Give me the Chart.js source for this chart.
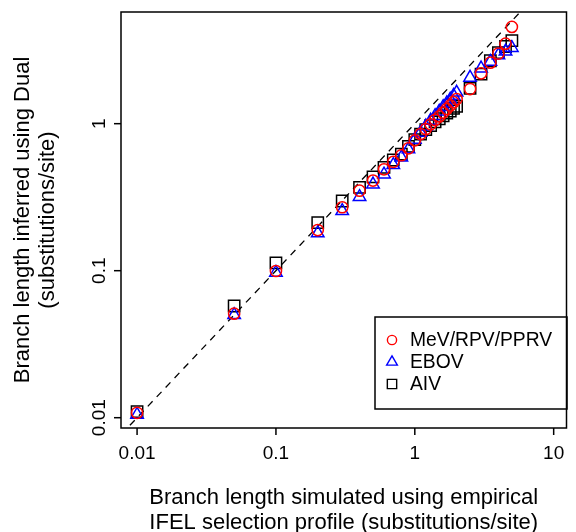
<!DOCTYPE html>
<html>
<head>
<meta charset="utf-8">
<script src="https://cdn.jsdelivr.net/npm/chart.js@4.4.1/dist/chart.umd.min.js"></script>
<style>
  html, body { margin: 0; padding: 0; background: #fff; }
  #wrap { width: 576px; height: 532px; }
</style>
</head>
<body>
<div id="wrap"><canvas id="chart" width="576" height="532"></canvas></div>
<script>
// simulated branch length (x)
var simulated = [0.01, 0.05, 0.1, 0.2, 0.3, 0.4, 0.5, 0.6, 0.7, 0.8, 0.9, 1.0, 1.1, 1.2, 1.3, 1.4, 1.5, 1.6, 1.7, 1.8, 1.9, 2.0, 2.5, 3.0, 3.5, 4.0, 4.5, 5.0];
// inferred branch lengths, one list per virus
var mevInferred = [0.0108, 0.051, 0.0995, 0.189, 0.27, 0.35, 0.41, 0.489, 0.55, 0.61, 0.68, 0.77, 0.85, 0.92, 0.99, 1.06, 1.12, 1.19, 1.26, 1.33, 1.40, 1.47, 1.72, 2.2, 2.6, 3.0, 3.5, 4.55];
var ebovInferred = [0.0105, 0.050, 0.097, 0.18, 0.255, 0.318, 0.387, 0.452, 0.524, 0.59, 0.67, 0.78, 0.87, 0.96, 1.05, 1.13, 1.21, 1.30, 1.38, 1.46, 1.55, 1.63, 2.06, 2.38, 2.64, 2.93, 3.1, 3.28];
var aivInferred = [0.011, 0.0575, 0.113, 0.212, 0.298, 0.369, 0.435, 0.505, 0.566, 0.62, 0.70, 0.78, 0.85, 0.91, 0.97, 1.03, 1.08, 1.13, 1.18, 1.22, 1.27, 1.31, 1.74, 2.17, 2.68, 3.04, 3.35, 3.67];

var seriesNames = ['MeV/RPV/PPRV', 'EBOV', 'AIV'];
var xTicks = [0.01, 0.1, 1, 10];
var yTicks = [0.01, 0.1, 1, 10];
var xTickLabels = ['0.01', '0.1', '1', '10'];
var yTickLabels = ['0.01', '0.1', '1', '10'];
var xRange = [0.00766, 12.37];
var yRange = [0.00851, 5.75];

var xTitle = ['Branch length simulated using empirical', 'IFEL selection profile (substitutions/site)'];
var yTitle = ['Branch length inferred using Dual', '(substitutions/site)'];

var FONT = '"Liberation Sans", Arial, Helvetica, sans-serif';

function toPoints(ys) {
    return simulated.map(function(x, i) { return { x: x, y: ys[i] }; });
}

// draw a marker like R's pch 1 / 2 / 0
function drawMarker(ctx, style, x, y, r) {
    ctx.beginPath();
    if (style === 'circle') {
        ctx.arc(x, y, r, 0, Math.PI * 2);
    } else if (style === 'triangle') {
        ctx.moveTo(x, y - r);
        ctx.lineTo(x + r * Math.sin(Math.PI * 2 / 3), y + r / 2);
        ctx.lineTo(x - r * Math.sin(Math.PI * 2 / 3), y + r / 2);
        ctx.closePath();
    } else {
        var s = r * Math.SQRT1_2;
        ctx.rect(x - s, y - s, 2 * s, 2 * s);
    }
    ctx.stroke();
}

var rAxesPlugin = {
    id: 'rAxes',
    afterDraw: function(chart) {
        var ctx = chart.ctx;
        var a = chart.chartArea;
        var xs = chart.scales.x;
        var ys = chart.scales.y;
        ctx.save();
        ctx.strokeStyle = '#000';
        ctx.fillStyle = '#000';
        ctx.lineWidth = 1.5;
        // box
        ctx.strokeRect(a.left, a.top, a.right - a.left, a.bottom - a.top);

        // x ticks
        ctx.font = '19px ' + FONT;
        ctx.textAlign = 'center';
        ctx.textBaseline = 'alphabetic';
        xTicks.forEach(function(v, i) {
            var px = xs.getPixelForValue(v);
            ctx.beginPath();
            ctx.moveTo(px, a.bottom);
            ctx.lineTo(px, a.bottom + 7);
            ctx.stroke();
            ctx.fillText(xTickLabels[i], px, 459);
        });

        // y ticks, labels rotated like R
        yTicks.forEach(function(v, i) {
            var py = ys.getPixelForValue(v);
            if (py < a.top - 1) return;
            ctx.beginPath();
            ctx.moveTo(a.left, py);
            ctx.lineTo(a.left - 7, py);
            ctx.stroke();
            ctx.save();
            ctx.translate(105, py);
            ctx.rotate(-Math.PI / 2);
            ctx.fillText(yTickLabels[i], 0, 0);
            ctx.restore();
        });

        // axis titles
        ctx.font = '22px ' + FONT;
        var cx = (a.left + a.right) / 2;
        ctx.fillText(xTitle[0], cx, 504);
        ctx.fillText(xTitle[1], cx, 529);
        var cy = (a.top + a.bottom) / 2;
        ctx.save();
        ctx.translate(29, cy);
        ctx.rotate(-Math.PI / 2);
        ctx.fillText(yTitle[0], 0, 0);
        ctx.restore();
        ctx.save();
        ctx.translate(54, cy);
        ctx.rotate(-Math.PI / 2);
        ctx.fillText(yTitle[1], 0, 0);
        ctx.restore();

        // legend
        ctx.lineWidth = 1.5;
        ctx.strokeRect(375, 317, 192, 92);
        ctx.font = '19.3px ' + FONT;
        ctx.textAlign = 'left';
        ctx.textBaseline = 'middle';
        chart.data.datasets.forEach(function(ds, i) {
            if (!ds.showInLegend) return;
            var rowY = 340 + i * 22;
            ctx.strokeStyle = ds.borderColor;
            ctx.lineWidth = 1.4;
            drawMarker(ctx, ds.pointStyle, 392, rowY, ds.legendRadius);
            ctx.fillStyle = '#000';
            ctx.fillText(ds.label, 410, rowY + 1);
        });
        ctx.restore();
    }
};

var ctx = document.getElementById('chart').getContext('2d');
var chart = new Chart(ctx, {
    type: 'scatter',
    data: {
        datasets: [
            {
                label: seriesNames[0],
                data: toPoints(mevInferred),
                pointStyle: 'circle',
                pointRadius: 5.6,
                borderColor: '#ff0000',
                backgroundColor: 'rgba(0,0,0,0)',
                pointBorderWidth: 1.5,
                showInLegend: true,
                legendRadius: 4.6
            },
            {
                label: seriesNames[1],
                data: toPoints(ebovInferred),
                pointStyle: 'triangle',
                pointRadius: 7.2,
                borderColor: '#0000ff',
                backgroundColor: 'rgba(0,0,0,0)',
                pointBorderWidth: 1.5,
                showInLegend: true,
                legendRadius: 6.2
            },
            {
                label: seriesNames[2],
                data: toPoints(aivInferred),
                pointStyle: 'rect',
                pointRadius: 8,
                borderColor: '#000000',
                backgroundColor: 'rgba(0,0,0,0)',
                pointBorderWidth: 1.5,
                showInLegend: true,
                legendRadius: 6.6
            },
            {
                // y = x reference line
                type: 'line',
                label: 'identity',
                data: [{ x: xRange[0], y: xRange[0] }, { x: yRange[1], y: yRange[1] }],
                borderColor: '#000',
                borderWidth: 1.3,
                borderDash: [7, 6],
                pointRadius: 0,
                fill: false,
                showInLegend: false
            }
        ]
    },
    options: {
        responsive: false,
        animation: false,
        layout: { padding: { left: 121, top: 12, right: 3, bottom: 104 } },
        plugins: {
            legend: { display: false },
            tooltip: { enabled: false }
        },
        scales: {
            x: {
                type: 'logarithmic',
                min: xRange[0],
                max: xRange[1],
                grid: { display: false },
                border: { display: false },
                ticks: { display: false },
                afterFit: function(s) { s.height = 0; }
            },
            y: {
                type: 'logarithmic',
                min: yRange[0],
                max: yRange[1],
                grid: { display: false },
                border: { display: false },
                ticks: { display: false },
                afterFit: function(s) { s.width = 0; }
            }
        }
    },
    plugins: [rAxesPlugin]
});
</script>
</body>
</html>
